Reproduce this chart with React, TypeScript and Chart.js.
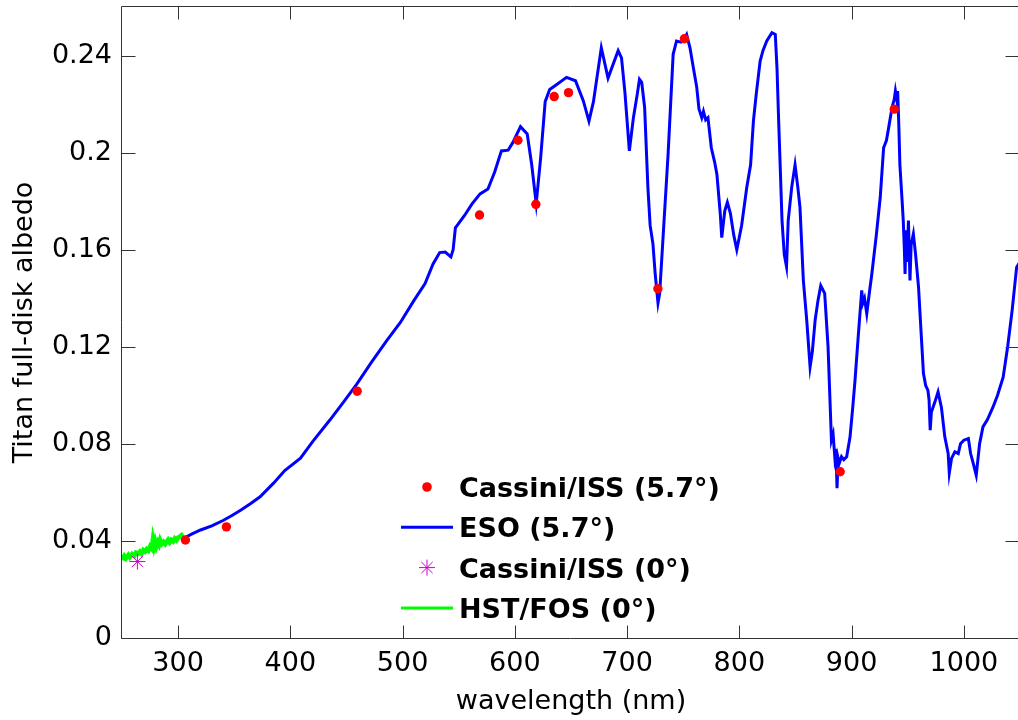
import React, { useEffect, useRef } from "react";
import { Chart, registerables } from "chart.js";

Chart.register(...registerables);

const FONT = "DejaVu Sans";

const X_TICKS = [300, 400, 500, 600, 700, 800, 900, 1000];
const Y_TICKS = [0, 0.04, 0.08, 0.12, 0.16, 0.2, 0.24];
const Y_TICK_LABELS = ["0", "0.04", "0.08", "0.12", "0.16", "0.2", "0.24"];

// Cassini/ISS (5.7°)
const ISS57_NM = [306.5, 343, 459.5, 568.5, 602.7, 618.7, 635, 647.8, 727.4, 751, 889.8, 938];
const ISS57_ALB = [0.0404, 0.0458, 0.1017, 0.1743, 0.2051, 0.1787, 0.2231, 0.2247, 0.1439, 0.2469, 0.0685, 0.2179];

// ESO (5.7°): [wavelength nm, albedo]
const ESO_SPECTRUM: [number, number][] = [
  [305, 0.0411], [312, 0.0428], [320, 0.0445], [330, 0.0462], [340, 0.0484], [348, 0.0505], [356, 0.0527],
  [365, 0.0555], [373, 0.0582], [385, 0.0638], [395, 0.069], [409, 0.0741], [420, 0.081], [435, 0.0897],
  [447, 0.097], [459, 0.1045], [472, 0.1135], [486, 0.1226], [498, 0.13], [510, 0.139], [520, 0.146],
  [527, 0.154], [533, 0.1588], [538, 0.159], [543, 0.157], [545, 0.16], [547, 0.169], [555, 0.174],
  [562, 0.179], [569, 0.183], [576, 0.185], [582, 0.192], [588, 0.2007], [594, 0.201], [598, 0.204],
  [605, 0.2107], [611, 0.2077], [615, 0.195], [619, 0.179], [623, 0.198], [627, 0.221], [631, 0.226],
  [637, 0.228], [646, 0.231], [654, 0.2296], [661, 0.2213], [666, 0.213], [670, 0.221], [677, 0.2432],
  [683, 0.2307], [692, 0.242], [695, 0.239], [698, 0.225], [702, 0.2007], [705.6, 0.2144], [709, 0.224],
  [711, 0.2302], [713, 0.229], [715.6, 0.2186], [718.5, 0.1857], [720.5, 0.17], [723, 0.1624], [725, 0.15],
  [727.5, 0.138], [729, 0.142], [732, 0.165], [736.5, 0.1994], [741, 0.2405], [744, 0.246], [748, 0.2455],
  [750, 0.2462], [753, 0.2487], [756, 0.2432], [759, 0.235], [762, 0.227], [764, 0.218], [766.5, 0.2144],
  [768, 0.217], [770, 0.2135], [772, 0.2144], [775, 0.202], [778, 0.196], [780, 0.191], [783, 0.1747],
  [784.3, 0.165], [787, 0.176], [789.3, 0.1795], [792, 0.175], [795, 0.166], [797.7, 0.16], [802, 0.17],
  [806.6, 0.1857], [810, 0.195], [812.5, 0.213], [815, 0.224], [818.5, 0.2377], [821, 0.242], [824.4, 0.246],
  [829, 0.2494], [832, 0.2487], [833.5, 0.235], [835, 0.213], [838, 0.172], [840, 0.158], [842, 0.153],
  [843.5, 0.172], [846.6, 0.1857], [849.6, 0.195], [852, 0.186], [854, 0.1774], [857, 0.1473], [860, 0.131],
  [863, 0.1117], [865, 0.118], [867.5, 0.131], [870, 0.139], [872.5, 0.1452], [876, 0.142], [879, 0.12],
  [882, 0.0815], [883.5, 0.084], [885, 0.0747], [886, 0.078], [887, 0.0617], [888, 0.074], [889, 0.072],
  [891, 0.0747], [893, 0.0735], [895.6, 0.0747], [898.6, 0.0829], [901, 0.095], [903, 0.106], [906, 0.125],
  [909, 0.1432], [910, 0.138], [911.5, 0.14], [913.5, 0.1336], [916, 0.143], [918, 0.15], [922, 0.166],
  [925.5, 0.1816], [928.5, 0.202], [931, 0.205], [933, 0.2103], [936, 0.2186], [938, 0.222], [939, 0.2254],
  [940, 0.2225], [941, 0.2254], [942, 0.212], [943, 0.195], [945, 0.18], [946, 0.172], [947, 0.16],
  [947.6, 0.15], [948.5, 0.168], [949.5, 0.155], [950.6, 0.172], [952, 0.1473], [953, 0.162], [955, 0.1665],
  [957, 0.158], [959.6, 0.1446], [962, 0.125], [964, 0.109], [966, 0.104], [968, 0.102], [969, 0.098],
  [970, 0.0856], [971, 0.093], [974, 0.097], [977, 0.1014], [980, 0.095], [983, 0.0829], [986, 0.076],
  [987, 0.068], [989, 0.074], [992, 0.0767], [995, 0.076], [997, 0.08], [1000, 0.0815], [1004, 0.0822],
  [1006, 0.076], [1008, 0.0726], [1011, 0.0671], [1014, 0.08], [1017, 0.087], [1021, 0.09], [1026, 0.0952],
  [1030, 0.1], [1035, 0.1075], [1039, 0.12], [1043, 0.135], [1047, 0.1528], [1050, 0.155],
];

// Cassini/ISS (0°)
const ISS0_NM = [263.7];
const ISS0_ALB = [0.0315];

// HST/FOS (0°): [wavelength nm, albedo]
const HST_SPECTRUM: [number, number][] = [
  [250, 0.0322], [252, 0.0338], [253.5, 0.0328], [255.7, 0.0342], [257, 0.0333], [259, 0.0346], [261, 0.0338],
  [262.5, 0.0352], [264.6, 0.0348], [266, 0.0356], [267.5, 0.0347], [269, 0.0362], [270.5, 0.0356], [272, 0.0366],
  [273.5, 0.036], [275, 0.0377], [276.5, 0.0368], [277.5, 0.0404], [278.5, 0.0378], [279.5, 0.0398], [280.6, 0.0377],
  [282, 0.0395], [283, 0.0385], [284, 0.0404], [285.5, 0.0388], [287, 0.0396], [288.5, 0.0387], [290, 0.0399],
  [291, 0.0405], [292.5, 0.0394], [294, 0.0404], [295.5, 0.0398], [297, 0.041], [298.5, 0.0403], [300, 0.0414],
  [301.7, 0.0418], [303, 0.0424], [304.7, 0.0429],
];

const LEGEND_LABELS = ["Cassini/ISS (5.7°)", "ESO (5.7°)", "Cassini/ISS (0°)", "HST/FOS (0°)"];

const toXY = (xs: number[], ys: number[]) => xs.map((x, i) => ({ x, y: ys[i] }));
const pairsXY = (p: [number, number][]) => p.map(([x, y]) => ({ x, y }));

const axesBoxPlugin = {
  id: "axesBox",
  afterDatasetsDraw(chart: any) {
    const { ctx, chartArea, scales } = chart;
    const { left, right, top, bottom } = chartArea;
    const L = Math.floor(left) - 0.5;
    const R = Math.round(right) - 0.5;
    const T = Math.floor(top) - 0.5;
    const B = Math.round(bottom) + 0.5;
    ctx.save();
    ctx.strokeStyle = "#333333";
    ctx.lineWidth = 1;
    ctx.beginPath();
    ctx.moveTo(L, T);
    ctx.lineTo(R, T);
    ctx.lineTo(R, B);
    ctx.lineTo(L, B);
    ctx.closePath();
    for (const v of X_TICKS) {
      const px = Math.round(scales.x.getPixelForValue(v)) + 0.5;
      ctx.moveTo(px, B);
      ctx.lineTo(px, B - 13);
      ctx.moveTo(px, T);
      ctx.lineTo(px, T + 13);
    }
    for (const v of Y_TICKS) {
      const py = Math.round(scales.y.getPixelForValue(v)) + 0.5;
      ctx.moveTo(L, py);
      ctx.lineTo(L + 14, py);
      ctx.moveTo(R, py);
      ctx.lineTo(R - 14, py);
    }
    ctx.stroke();
    ctx.restore();
  },
  afterDraw(chart: any) {
    const { ctx } = chart;
    const baseX = 459;
    const symX = 427;
    const base0 = 497;
    const step = 40.3;
    ctx.save();
    ctx.font = `bold 27px "${FONT}"`;
    ctx.textBaseline = "alphabetic";
    ctx.textAlign = "left";
    LEGEND_LABELS.forEach((label, i) => {
      const by = base0 + step * i;
      const cy = by - 10;
      ctx.fillStyle = "#000";
      ctx.fillText(label, baseX, by);
      if (i === 0) {
        ctx.fillStyle = "#ff0000";
        ctx.beginPath();
        ctx.arc(symX, cy, 4.8, 0, Math.PI * 2);
        ctx.fill();
      } else if (i === 1 || i === 3) {
        ctx.strokeStyle = i === 1 ? "#0000ff" : "#00ff00";
        ctx.lineWidth = 3;
        ctx.beginPath();
        ctx.moveTo(401, cy);
        ctx.lineTo(453, cy);
        ctx.stroke();
      } else {
        ctx.strokeStyle = "#cc00cc";
        ctx.lineWidth = 1;
        const r = 8;
        const d = r * Math.SQRT1_2;
        ctx.beginPath();
        ctx.moveTo(symX - r, cy);
        ctx.lineTo(symX + r, cy);
        ctx.moveTo(symX, cy - r);
        ctx.lineTo(symX, cy + r);
        ctx.moveTo(symX - d, cy - d);
        ctx.lineTo(symX + d, cy + d);
        ctx.moveTo(symX - d, cy + d);
        ctx.lineTo(symX + d, cy - d);
        ctx.stroke();
      }
    });
    ctx.restore();
  },
};

export default function App() {
  const ref = useRef<HTMLCanvasElement | null>(null);

  useEffect(() => {
    document.body.style.margin = "0";
    const canvas = ref.current;
    if (!canvas) return;
    const chart = new Chart(canvas, {
      type: "scatter",
      data: {
        datasets: [
          {
            label: LEGEND_LABELS[0],
            data: toXY(ISS57_NM, ISS57_ALB),
            showLine: false,
            pointRadius: 4.7,
            pointBackgroundColor: "#ff0000",
            pointBorderWidth: 0,
            pointBorderColor: "#ff0000",
          },
          {
            label: LEGEND_LABELS[1],
            data: pairsXY(ESO_SPECTRUM),
            showLine: true,
            borderColor: "#0000ff",
            borderWidth: 3,
            pointRadius: 0,
            tension: 0,
          },
          {
            label: LEGEND_LABELS[2],
            data: toXY(ISS0_NM, ISS0_ALB),
            showLine: false,
            pointStyle: "star",
            pointRadius: 8,
            pointBorderColor: "#cc00cc",
            pointBackgroundColor: "#cc00cc",
            pointBorderWidth: 1,
          },
          {
            label: LEGEND_LABELS[3],
            data: pairsXY(HST_SPECTRUM),
            showLine: true,
            borderColor: "#00ff00",
            borderWidth: 4.5,
            pointRadius: 0,
            tension: 0,
          },
        ],
      },
      options: {
        animation: false,
        responsive: false,
        events: [],
        layout: { autoPadding: false, padding: { top: 7, right: 4, left: 0, bottom: 0 } },
        plugins: {
          legend: { display: false },
          tooltip: { enabled: false },
        },
        scales: {
          x: {
            type: "linear",
            position: "bottom",
            min: 250,
            max: 1050,
            afterBuildTicks: (s: any) => {
              s.ticks = X_TICKS.map((v) => ({ value: v }));
            },
            afterFit: (s: any) => {
              s.height = 82;
              s.paddingLeft = 0;
              s.paddingRight = 0;
            },
            grid: { display: false, drawTicks: false },
            border: { display: false },
            ticks: {
              autoSkip: false,
              maxRotation: 0,
              padding: 10,
              color: "#000",
              font: { family: FONT, size: 27 },
              callback: (v: any) => String(v),
            },
            title: {
              display: true,
              text: "wavelength (nm)",
              color: "#000",
              font: { family: FONT, size: 27 },
              padding: { top: 0, bottom: 2 },
            },
          },
          y: {
            type: "linear",
            position: "left",
            min: 0,
            max: 0.26,
            afterBuildTicks: (s: any) => {
              s.ticks = Y_TICKS.map((v) => ({ value: v }));
            },
            afterFit: (s: any) => {
              s.width = 122;
              s.paddingTop = 0;
              s.paddingBottom = 0;
            },
            grid: { display: false, drawTicks: false },
            border: { display: false },
            ticks: {
              autoSkip: false,
              padding: 10,
              color: "#000",
              font: { family: FONT, size: 27 },
              callback: (v: any) => {
                const i = Y_TICKS.indexOf(v);
                return i >= 0 ? Y_TICK_LABELS[i] : "";
              },
            },
            title: {
              display: true,
              text: "Titan full-disk albedo",
              color: "#000",
              font: { family: FONT, size: 27 },
              padding: { top: 9, bottom: 0 },
            },
          },
        },
      },
      plugins: [axesBoxPlugin],
    });
    return () => chart.destroy();
  }, []);

  return (
    <div style={{ position: "fixed", left: 0, top: 0, width: 1018, height: 720, overflow: "hidden", background: "#fff" }}>
      <div style={{ position: "relative", width: 1024, height: 720 }}>
        <canvas ref={ref} width={1024} height={720} style={{ display: "block", width: 1024, height: 720 }} />
      </div>
    </div>
  );
}
